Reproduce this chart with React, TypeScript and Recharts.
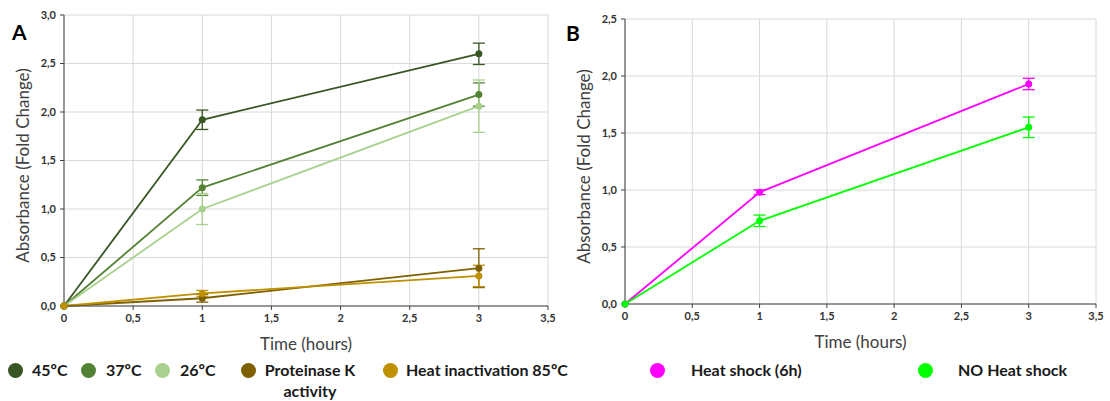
import React from "react";
import {
  LineChart,
  Line,
  XAxis,
  YAxis,
  CartesianGrid,
  ErrorBar,
  Label,
} from "recharts";

// time points (hours)
const times = [0, 1, 3];

// panel A
const abs45 = [0, 1.92, 2.6];
const err45 = [0, 0.1, 0.11];
const abs37 = [0, 1.22, 2.18];
const err37 = [0, 0.08, 0.12];
const abs26 = [0, 1.0, 2.06];
const err26 = [0, 0.16, 0.27];
const absProtK = [0, 0.08, 0.39];
const errProtK = [0, 0.04, 0.2];
const absHeatInact = [0, 0.13, 0.31];
const errHeatInact = [0, 0.03, 0.11];

// panel B
const absHeatShock = [0, 0.98, 1.93];
const errHeatShock = [0, 0.02, 0.05];
const absNoShock = [0, 0.73, 1.55];
const errNoShock = [0, 0.05, 0.09];

const xTicks = [0, 0.5, 1, 1.5, 2, 2.5, 3, 3.5];
const yTicksA = [0, 0.5, 1, 1.5, 2, 2.5, 3];
const yTicksB = [0, 0.5, 1, 1.5, 2, 2.5];

const seriesA = [
  { key: "s45", name: "45ºC", color: "#375623", values: abs45, errors: err45 },
  { key: "s37", name: "37ºC", color: "#548235", values: abs37, errors: err37 },
  { key: "s26", name: "26ºC", color: "#a9d18e", values: abs26, errors: err26 },
  { key: "pk", name: "Proteinase K activity", color: "#7f6000", values: absProtK, errors: errProtK },
  { key: "hi", name: "Heat inactivation 85ºC", color: "#bf9000", values: absHeatInact, errors: errHeatInact },
];

const seriesB = [
  { key: "hs", name: "Heat shock (6h)", color: "#ff00ff", values: absHeatShock, errors: errHeatShock },
  { key: "nohs", name: "NO Heat shock", color: "#00ff00", values: absNoShock, errors: errNoShock },
];

type Series = (typeof seriesA)[number];

const buildRows = (series: Series[]) =>
  times.map((t, i) => {
    const row: Record<string, number> = { time: t };
    series.forEach((s) => {
      row[s.key] = s.values[i];
      row[s.key + "Err"] = s.errors[i];
    });
    return row;
  });

const dataA = buildRows(seriesA);
const dataB = buildRows(seriesB);

const FONT = "Lato, 'Open Sans', sans-serif";
const comma = (v: number) => String(v).replace(".", ",");
const commaFixed = (v: number) => v.toFixed(1).replace(".", ",");

const tickStyle = { fill: "#333", fontSize: 11, fontWeight: 700, fontFamily: FONT };

const yTitle = (cx: number) => (props: any) => {
  const vb = props.viewBox;
  const cy = vb.y + vb.height / 2 + 5;
  return (
    <text
      x={cx}
      y={cy}
      transform={`rotate(-90, ${cx}, ${cy})`}
      textAnchor="middle"
      dominantBaseline="central"
      fill="#404040"
      fontSize={17}
      fontFamily={FONT}
    >
      Absorbance (Fold Change)
    </text>
  );
};

const xTitle = (props: any) => {
  const vb = props.viewBox;
  return (
    <text
      x={vb.x + vb.width / 2}
      y={vb.y + 37}
      textAnchor="middle"
      dominantBaseline="central"
      fill="#404040"
      fontSize={17}
      fontFamily={FONT}
    >
      Time (hours)
    </text>
  );
};

interface PanelProps {
  data: Record<string, number>[];
  series: Series[];
  width: number;
  margin: { top: number; right: number; bottom: number; left: number };
  yWidth: number;
  yMax: number;
  yTicks: number[];
  yTitleX: number;
}

const Panel = ({ data, series, width, margin, yWidth, yMax, yTicks, yTitleX }: PanelProps) => (
  <LineChart width={width} height={401} data={data} margin={margin}>
    <CartesianGrid stroke="#d9d9d9" strokeWidth={1} />
    <XAxis
      dataKey="time"
      type="number"
      domain={[0, 3.5]}
      ticks={xTicks}
      tickFormatter={comma}
      tick={tickStyle}
      tickSize={4}
      tickMargin={4}
      stroke="#404040"
      height={60}
    >
      <Label content={xTitle} />
    </XAxis>
    <YAxis
      type="number"
      domain={[0, yMax]}
      ticks={yTicks}
      tickFormatter={commaFixed}
      tick={tickStyle}
      tickSize={4}
      tickMargin={4}
      stroke="#404040"
      width={yWidth}
    >
      <Label content={yTitle(yTitleX)} />
    </YAxis>
    {series.map((s) => (
      <Line
        key={s.key}
        dataKey={s.key}
        name={s.name}
        type="linear"
        stroke={s.color}
        strokeWidth={1.8}
        dot={{ r: 3.5, fill: s.color, stroke: s.color, strokeWidth: 0 }}
        isAnimationActive={false}
      >
        <ErrorBar dataKey={s.key + "Err"} direction="y" width={6} stroke={s.color} strokeWidth={1.3} />
      </Line>
    ))}
  </LineChart>
);

interface LegendSpot {
  cx: number;
  textX: number;
  textWidth?: number;
}

const legendA: LegendSpot[] = [
  { cx: 15, textX: 32 },
  { cx: 88, textX: 106 },
  { cx: 162, textX: 180 },
  { cx: 248, textX: 262, textWidth: 96 },
  { cx: 390, textX: 406 },
];
const legendB: LegendSpot[] = [
  { cx: 657, textX: 691 },
  { cx: 925, textX: 958 },
];

const LegendRow = ({ series, spots }: { series: Series[]; spots: LegendSpot[] }) => (
  <>
    {series.map((s, i) => (
      <React.Fragment key={s.key}>
        <div
          style={{
            position: "absolute",
            left: spots[i].cx - 7.5,
            top: 363,
            width: 15,
            height: 15,
            borderRadius: "50%",
            background: s.color,
          }}
        />
        <div
          style={{
            position: "absolute",
            left: spots[i].textX,
            top: 359,
            width: spots[i].textWidth,
            textAlign: spots[i].textWidth ? "center" : "left",
            whiteSpace: spots[i].textWidth ? "normal" : "nowrap",
            fontFamily: FONT,
            fontWeight: 700,
            fontSize: 16,
            lineHeight: "21px",
            color: "#1a1a1a",
          }}
        >
          {s.name}
        </div>
      </React.Fragment>
    ))}
  </>
);

const panelLetter = (text: string, left: number, top: number) => (
  <div
    style={{
      position: "absolute",
      left,
      top,
      fontFamily: FONT,
      fontWeight: 700,
      fontSize: 21,
      lineHeight: "21px",
      color: "#000",
    }}
  >
    {text}
  </div>
);

export default function App() {
  return (
    <div style={{ position: "absolute", left: 0, top: 0, width: 1110, height: 401, background: "#fff" }}>
      <div style={{ position: "absolute", left: 0, top: 0 }}>
        <Panel
          data={dataA}
          series={seriesA}
          width={560}
          margin={{ top: 15, right: 12, bottom: 35, left: 0 }}
          yWidth={64}
          yMax={3}
          yTicks={yTicksA}
          yTitleX={22}
        />
      </div>
      <div style={{ position: "absolute", left: 560, top: 0 }}>
        <Panel
          data={dataB}
          series={seriesB}
          width={550}
          margin={{ top: 19, right: 14, bottom: 37, left: 0 }}
          yWidth={65}
          yMax={2.5}
          yTicks={yTicksB}
          yTitleX={23}
        />
      </div>
      {panelLetter("A", 12, 21)}
      {panelLetter("B", 566, 22)}
      <LegendRow series={seriesA} spots={legendA} />
      <LegendRow series={seriesB} spots={legendB} />
    </div>
  );
}
